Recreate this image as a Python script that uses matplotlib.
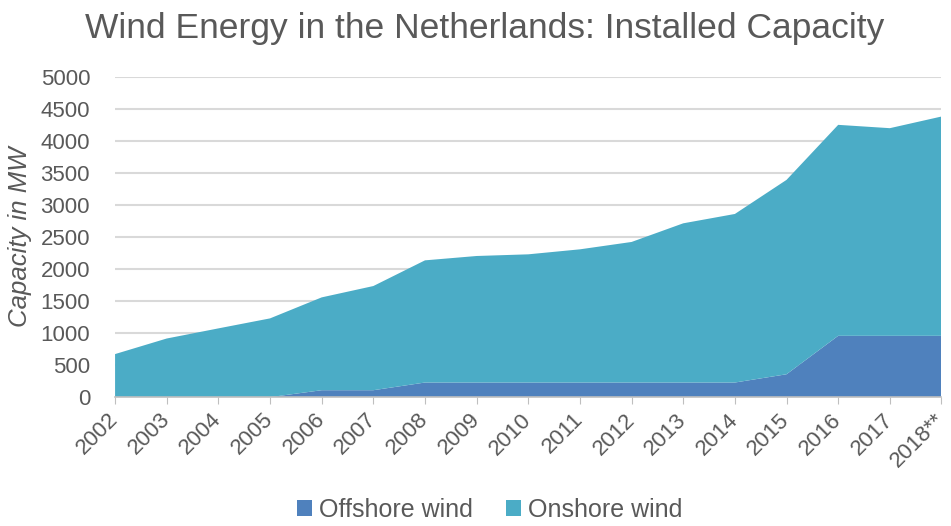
import matplotlib
matplotlib.use("Agg")
import matplotlib.pyplot as plt
import numpy as np

plt.rcParams['font.family'] = ['Liberation Sans', 'DejaVu Sans']

# data (MW)
years = ["2002", "2003", "2004", "2005", "2006", "2007", "2008", "2009", "2010",
         "2011", "2012", "2013", "2014", "2015", "2016", "2017", "2018**"]
offshore = [0, 0, 0, 0, 108, 108, 228, 228, 228, 228, 228, 228, 228, 357, 957, 957, 957]
total = [672, 915, 1073, 1229, 1557, 1734, 2135, 2203, 2229, 2307, 2422, 2713, 2859,
         3391, 4250, 4198, 4380]
onshore = [t - o for t, o in zip(total, offshore)]

col_off = "#4F81BD"
col_on = "#4BACC6"
grey = "#595959"

fig = plt.figure(figsize=(9.51, 5.26), dpi=100)
ax = fig.add_axes([0.121, 0.245, 0.869, 0.609])

x = np.arange(len(years))
ax.stackplot(x, offshore, onshore, colors=[col_off, col_on],
             labels=["Offshore wind", "Onshore wind"], zorder=2)

ax.set_xlim(0, len(years) - 1)
ax.set_ylim(0, 5000)
ax.set_yticks(np.arange(0, 5001, 500))
ax.yaxis.grid(True, color="#D9D9D9", linewidth=1.5, zorder=0)
ax.set_axisbelow(True)

ax.set_xticks(x)
ax.set_xticklabels(years, rotation=45, ha="right", va="center", rotation_mode="anchor")
ax.tick_params(axis="x", colors="#BFBFBF", labelcolor=grey, labelsize=16,
               length=5, direction="out", pad=9)
ax.tick_params(axis="y", length=0, labelcolor=grey, labelsize=16, pad=18)

for s in ["left", "right", "top"]:
    ax.spines[s].set_visible(False)
ax.spines["bottom"].set_color("#BFBFBF")
ax.spines["bottom"].set_linewidth(1.2)
ax.spines["bottom"].set_zorder(3)

ax.set_ylabel("Capacity in MW", fontsize=18.5, style="italic", color=grey, labelpad=6)

fig.text(0.51, 0.945, "Wind Energy in the Netherlands: Installed Capacity",
         ha="center", va="center", fontsize=25.5, color=grey)

handles, labels = ax.get_legend_handles_labels()
fig.legend(handles, labels, loc="center", bbox_to_anchor=(0.515, 0.03), ncol=2,
           frameon=False, fontsize=18, labelcolor=grey, handlelength=0.6,
           handleheight=0.6, handletextpad=0.3, columnspacing=1.3,
           borderpad=0.1)

fig.savefig("out.png", dpi=100)
